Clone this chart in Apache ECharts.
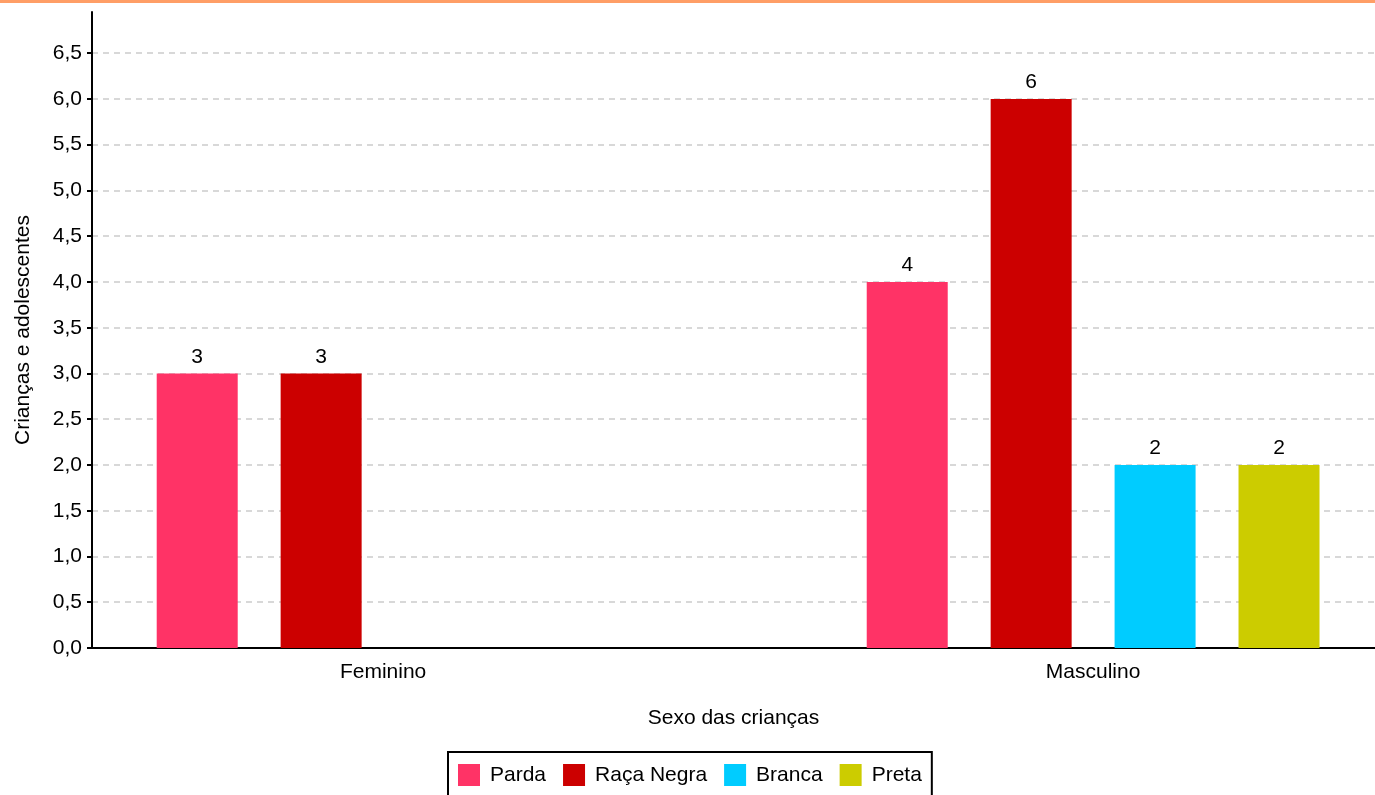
<!DOCTYPE html>
<html>
<head>
<meta charset="utf-8">
<script src="https://cdn.jsdelivr.net/npm/echarts@6/dist/echarts.min.js"></script>
<style>
html,body{margin:0;padding:0;background:#fff;}
#chart{width:1375px;height:795px;}
</style>
</head>
<body>
<div id="chart"></div>
<script>
const categories = ['Feminino', 'Masculino'];
const seriesNames = ['Parda', 'Raça Negra', 'Branca', 'Preta'];
const parda = [3, 4];
const racaNegra = [3, 6];
const branca = [null, 2];
const preta = [null, 2];
const yTicks = [0, 0.5, 1, 1.5, 2, 2.5, 3, 3.5, 4, 4.5, 5, 5.5, 6, 6.5];
const colors = ['#FF3366', '#CC0000', '#00CCFF', '#CCCC00'];

const seriesValues = [parda, racaNegra, branca, preta];
const FONT = 'Liberation Sans, Arial, sans-serif';
const FS = 21;

function toPairs(vals) {
  const out = [];
  vals.forEach((v, i) => { if (v !== null) out.push([i, v]); });
  return out;
}

const chart = echarts.init(document.getElementById('chart'), null, {renderer: 'canvas'});
const option = {
  animation: false,
  textStyle: {fontFamily: FONT},
  graphic: [{
    type: 'rect', left: 0, top: 0, shape: {width: 1375, height: 3},
    style: {fill: '#FF9E66'}
  }],
  grid: {left: 92, right: 0, top: 12, bottom: 147, containLabel: false},
  legend: {
    left: 448, top: 752,
    padding: [12, 10, 12, 10],
    borderColor: '#000', borderWidth: 2,
    itemWidth: 22, itemHeight: 22, itemGap: 17,
    icon: 'rect',
    textStyle: {fontSize: FS, color: '#000', fontFamily: FONT, padding: [0, 0, 0, 5]},
    data: seriesNames
  },
  xAxis: {
    type: 'value',
    min: -0.41, max: 1.397,
    name: 'Sexo das crianças',
    nameLocation: 'middle', nameGap: 60,
    nameTextStyle: {fontSize: FS, color: '#000', fontFamily: FONT},
    axisLine: {show: true, onZero: false, lineStyle: {color: '#000', width: 2}},
    axisTick: {show: false},
    splitLine: {show: false},
    axisLabel: {
      customValues: [0, 1],
      margin: 14,
      fontSize: FS, color: '#000', fontFamily: FONT,
      formatter: v => categories[Math.round(v)]
    }
  },
  yAxis: {
    type: 'value',
    min: 0, max: 6.95,
    name: 'Crianças e adolescentes',
    nameLocation: 'middle', nameGap: 58,
    nameTextStyle: {fontSize: FS, color: '#000', fontFamily: FONT},
    axisLine: {show: true, onZero: false, lineStyle: {color: '#000', width: 2}},
    axisTick: {show: true, inside: false, length: 5, customValues: yTicks, lineStyle: {color: '#000', width: 2}},
    splitLine: {show: true, lineStyle: {color: '#ccc', type: [6, 5], width: 1.5}},
    axisLabel: {
      customValues: yTicks,
      margin: 10,
      fontSize: FS, color: '#000', fontFamily: FONT,
      formatter: v => v.toFixed(1).replace('.', ',')
    }
  },
  series: seriesNames.map((name, i) => ({
    name: name,
    type: 'bar',
    barWidth: 81,
    barGap: '53%',
    itemStyle: {color: colors[i]},
    label: {
      show: true, position: 'top', distance: 6,
      fontSize: FS, color: '#000', fontFamily: FONT,
      formatter: p => String(p.value[1])
    },
    data: toPairs(seriesValues[i])
  }))
};
chart.setOption(option);
</script>
</body>
</html>
